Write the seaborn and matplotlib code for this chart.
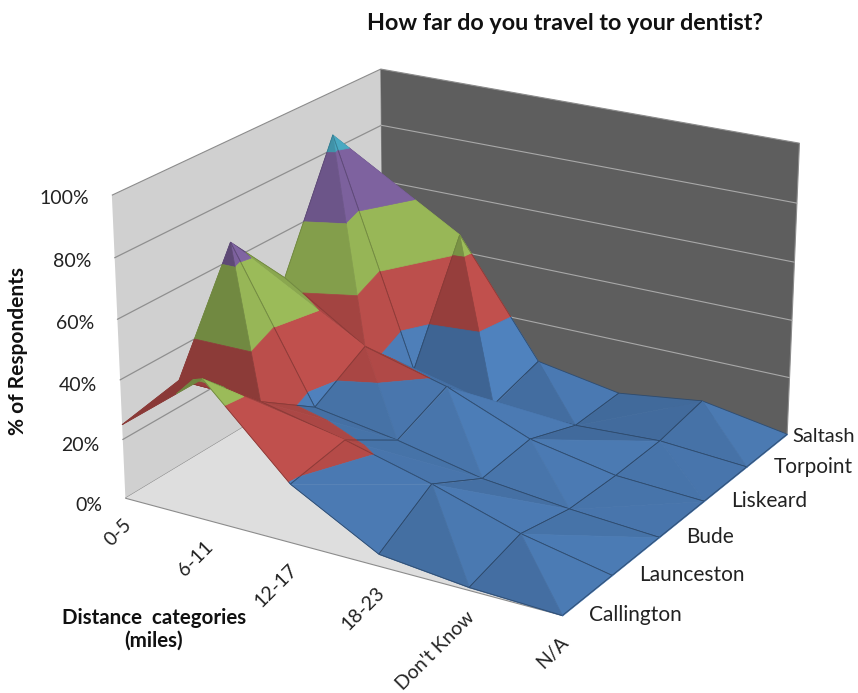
import numpy as np
import matplotlib
matplotlib.use("Agg")
import matplotlib.pyplot as plt
import seaborn as sns
from matplotlib.colors import to_rgb
from mpl_toolkits.mplot3d import proj3d
from mpl_toolkits.mplot3d.art3d import Poly3DCollection, Line3DCollection

# Share of respondents (%) per distance category, one list per town
distance_labels = ["0-5", "6-11", "12-17", "18-23", "Don't Know", "N/A"]
town_labels = ["Callington", "Launceston", "Bude", "Liskeard", "Torpoint", "Saltash"]
callington = [25, 47, 19.5, 4, 1, 0]
launceston = [29, 28.5, 22.5, 15, 6, 0]
bude = [66, 15.5, 11, 5, 2, 0]
liskeard = [44, 26, 18.5, 7, 1.5, 0]
torpoint = [85, 7, 1, 0.5, 2, 0]
saltash = [45, 46, 6, 1, 5, 0]
percent_ticks = [0, 20, 40, 60, 80, 100]
band_colours = ["#4F81BD", "#C0504D", "#9BBB59", "#8064A2", "#4BACC6"]

sns.set_theme(style="white")
plt.rcParams["font.family"] = ["Lato", "DejaVu Sans"]
palette = sns.color_palette(band_colours)

values = np.array([callington, launceston, bude, liskeard, torpoint, saltash], float)
n_x, n_y = len(distance_labels), len(town_labels)

fig = plt.figure(figsize=(8.58, 6.93), dpi=100)
ax = fig.add_axes([108.2 / 858, 17.3 / 693, 693 / 858, 1.0], projection="3d",
                  computed_zorder=False)
ax.view_init(elev=21.59, azim=-59.16)
ax.set_proj_type("persp", focal_length=0.819)
BOX = (516.0, 499.5, 331.0)
ax.set_box_aspect(BOX, zoom=1.068)
ax.set_xlim(0, n_x - 1)
ax.set_ylim(0, n_y - 1)
ax.set_zlim(0, 100)

# Walls and floor
ax.grid(False)
ax.set_xticks([]); ax.set_yticks([]); ax.set_zticks([])
for axis, colour in ((ax.xaxis, "#d0d0d0"), (ax.yaxis, "#5e5e5e"), (ax.zaxis, "#dedede")):
    axis.set_pane_color(to_rgb(colour))
    axis.pane.set_edgecolor("#8c8c8c")
    axis.pane.set_linewidth(0.8)
    axis.line.set_color((0, 0, 0, 0))
for z in percent_ticks[1:-1]:
    ax.plot([0, 0], [0, n_y - 1], [z, z], color="#8f8f8f", lw=0.9, zorder=1)
    ax.plot([0, n_x - 1], [n_y - 1, n_y - 1], [z, z], color="#a8a8a8", lw=0.8, zorder=1)


def clip_polygon(points, lo, hi):
    """Keep the part of a planar polygon lying between two heights."""
    def clip(poly, keep, level):
        out = []
        for i, p in enumerate(poly):
            q = poly[(i + 1) % len(poly)]
            if keep(p[2]):
                out.append(p)
            if keep(p[2]) != keep(q[2]):
                t = (level - p[2]) / (q[2] - p[2])
                out.append(tuple(p[k] + t * (q[k] - p[k]) for k in range(3)))
        return out
    poly = clip(list(points), lambda v: v >= lo, lo)
    if poly:
        poly = clip(poly, lambda v: v <= hi, hi)
    return poly


def facet_shade(tri):
    """Brightness of a facet from the direction it faces."""
    scale = np.array([BOX[0] / (n_x - 1), BOX[1] / (n_y - 1), BOX[2] / 100])
    p = np.array(tri) * scale
    n = np.cross(p[1] - p[0], p[2] - p[0])
    if n[2] < 0:
        n = -n
    nx, ny, nz = n / np.linalg.norm(n)
    s = 0.797 + 0.13 * nx + 0.083 * nz + 0.06 * np.tanh(6 * nx)
    if ny < 0:
        s -= 0.07 * np.tanh(-4 * ny) * (1 - abs(nx)) + 0.25 * ny ** 6
    else:
        s -= 0.15 * ny
    return s


def draw_facet(tri, order):
    shade = facet_shade(tri)
    polys, colours = [], []
    for b, colour in enumerate(palette):
        part = clip_polygon(tri, percent_ticks[b], percent_ticks[b + 1])
        if len(part) >= 3:
            polys.append(part)
            colours.append(tuple(np.clip(np.array(colour) * shade, 0, 1)))
    ax.add_collection3d(Poly3DCollection(polys, facecolors=colours, edgecolors=colours,
                                         linewidths=0.5, zorder=order))


def draw_edges(pairs, order):
    segs, colours = [], []
    for p, q in pairs:
        lo_z, hi_z = sorted((p, q), key=lambda v: v[2])
        for b, colour in enumerate(palette):
            lo, hi = percent_ticks[b], percent_ticks[b + 1]
            a = lo_z[2]; c = hi_z[2]
            if c < lo or a > hi or (a == c and not lo <= a < hi):
                continue
            t0 = 0 if a == c else max(0, (lo - a) / (c - a))
            t1 = 1 if a == c else min(1, (hi - a) / (c - a))
            s0 = tuple(lo_z[k] + t0 * (hi_z[k] - lo_z[k]) for k in range(3))
            s1 = tuple(lo_z[k] + t1 * (hi_z[k] - lo_z[k]) for k in range(3))
            segs.append([s0, s1])
            colours.append(tuple(np.array(colour) * (0.58 if b == 0 else 0.72)))
    ax.add_collection3d(Line3DCollection(segs, colors=colours, linewidths=0.6, zorder=order))


# Cells are painted from the far corner of the grid towards the viewer;
# each cell folds along the diagonal holding its higher pair of corners
order = 5
for j in range(n_y - 2, -1, -1):
    for i in range(n_x - 1):
        a = (i, j, values[j, i])
        b = (i + 1, j, values[j, i + 1])
        c = (i + 1, j + 1, values[j + 1, i + 1])
        d = (i, j + 1, values[j + 1, i])
        if a[2] + c[2] > b[2] + d[2]:
            parts = [((a, c, d), [(c, d), (d, a)]), ((a, b, c), [(a, b), (b, c)])]
        else:
            parts = [((d, c, b), [(d, c), (c, b)]), ((a, b, d), [(a, b), (a, d)])]
        for tri, edges in parts:
            draw_facet(tri, order)
            draw_edges(edges, order + 1)
            order += 2

ax.set_xlim(0, n_x - 1)
ax.set_ylim(0, n_y - 1)
ax.set_zlim(0, 100)

# Tick labels, anchored on projected axis positions
M = ax.get_proj()


def place(x, y, z, text, offset, size=14, **kw):
    px, py, _ = proj3d.proj_transform(x, y, z, M)
    ax.annotate(text, xy=(px, py), xytext=offset, textcoords="offset pixels",
                annotation_clip=False, color="#222222", fontsize=size, zorder=500, **kw)


for z in percent_ticks:
    place(0, 0, z, f"{z}%", (-23, -3 - 0.04 * (100 - z)), ha="right", va="center")
for i, label in enumerate(distance_labels):
    place(i, 0, 0, label, (3, -24), ha="right", va="center", rotation=45, rotation_mode="anchor")
for j, label in enumerate(town_labels):
    offset = (5, -2) if j == n_y - 1 else (27, 0)
    place(n_x - 1, j, 0, label, offset, size=15 if j < n_y - 1 else 14.5, ha="left", va="center")

fig.text(565 / 858, 1 - 24 / 693, "How far do you travel to your dentist?", ha="center",
         va="center", fontsize=16.8, fontweight="bold", color="#111111")
fig.text(18 / 858, 1 - 351 / 693, "% of Respondents", rotation=90, ha="center", va="center",
         fontsize=15, fontweight="bold", color="#111111")
fig.text(154 / 858, 1 - 629 / 693, "Distance  categories\n(miles)", ha="center", va="center",
         fontsize=14.8, fontweight="bold", color="#111111", linespacing=1.15)

fig.savefig("out.png", dpi=100)
